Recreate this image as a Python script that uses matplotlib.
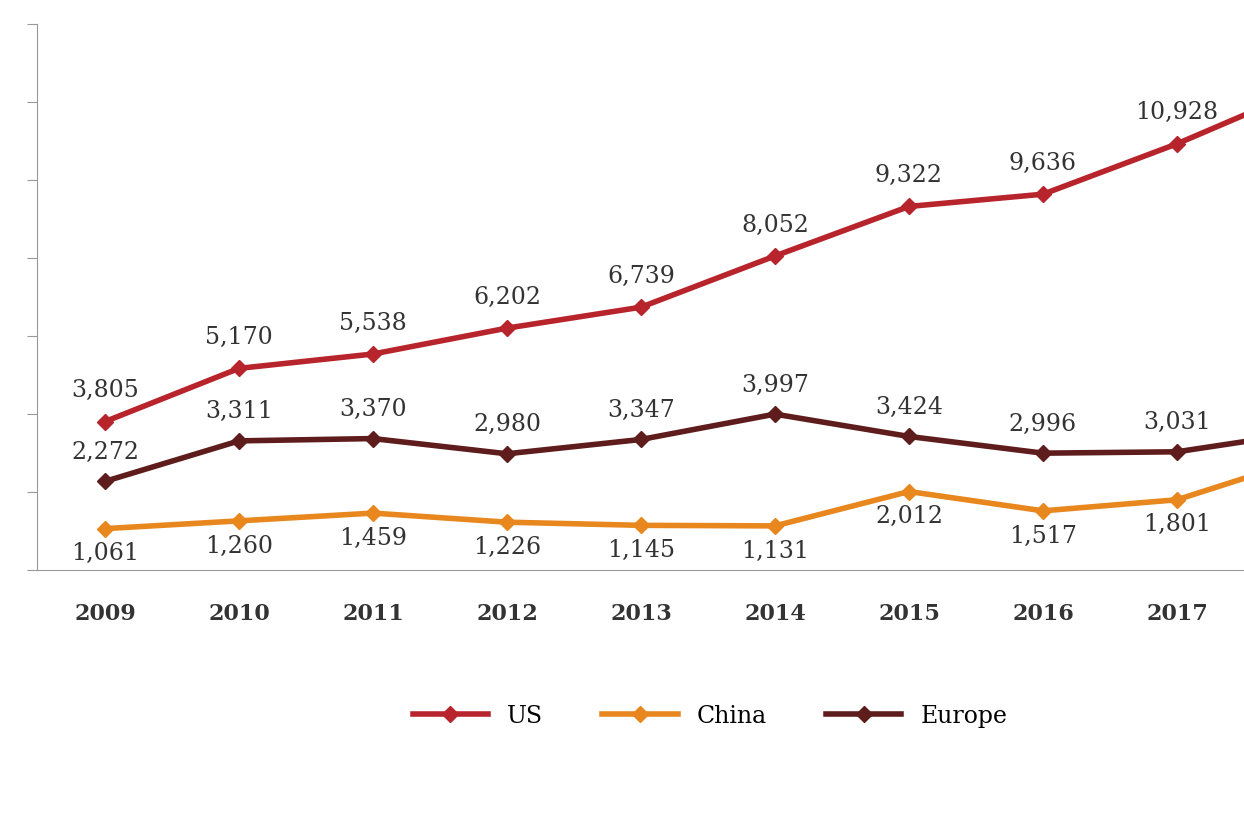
import matplotlib
matplotlib.use('Agg')
import matplotlib.pyplot as plt
from matplotlib.ticker import FuncFormatter

years = [2009, 2010, 2011, 2012, 2013, 2014, 2015, 2016, 2017, 2018]
us = [3805, 5170, 5538, 6202, 6739, 8052, 9322, 9636, 10928, 12400]
china = [1061, 1260, 1459, 1226, 1145, 1131, 2012, 1517, 1801, 2900]
europe = [2272, 3311, 3370, 2980, 3347, 3997, 3424, 2996, 3031, 3550]
yticks = list(range(0, 14001, 2000))

W, H = 1244, 830
fig = plt.figure(figsize=(W / 100, H / 100), dpi=100)
ax = fig.add_axes([37 / W, (H - 570) / H, 1 - 37 / W, 546 / H])

c_us, c_cn, c_eu = '#b8242c', '#e8871e', '#5e1c1c'
kw = dict(lw=4, marker='D', ms=8)
ax.plot(years, us, color=c_us, label='US', **kw)
ax.plot(years, china, color=c_cn, label='China', **kw)
ax.plot(years, europe, color=c_eu, label='Europe', **kw)

fmt = lambda v: f'{v:,}'
tk = dict(ha='center', fontsize=17, color='#333333', family='DejaVu Serif')
for x, a, b, c in zip(years[:-1], us, china, europe):
    ax.text(x, a + 500, fmt(a), va='bottom', **tk)
    ax.text(x, c + 450, fmt(c), va='bottom', **tk)
    ax.text(x, b - 350, fmt(b), va='top', **tk)

ax.set_xlim(2009 - 68 / 134, 2017 + 67 / 134)
ax.set_ylim(0, 14000)
ax.set_xticks(years[:-1])
ax.set_yticks(yticks)
ax.yaxis.set_major_formatter(FuncFormatter(lambda v, p: f'{int(v):,}'))
ax.tick_params(axis='y', length=7, pad=20, labelsize=15, color='#999999')
ax.tick_params(axis='x', length=0, pad=24, labelsize=16)
for lab in ax.get_xticklabels() + ax.get_yticklabels():
    lab.set_family('DejaVu Serif'); lab.set_color('#333333'); lab.set_fontweight('bold')
for s in ['top', 'right']:
    ax.spines[s].set_visible(False)
for s in ['left', 'bottom']:
    ax.spines[s].set_color('#999999')

fig.legend(loc='center', bbox_to_anchor=(710 / W, 1 - 716 / H), ncol=3, frameon=False,
           prop={'family': 'DejaVu Serif', 'size': 17}, handlelength=3.2, columnspacing=2.5)
fig.savefig('out.png', dpi=100)
